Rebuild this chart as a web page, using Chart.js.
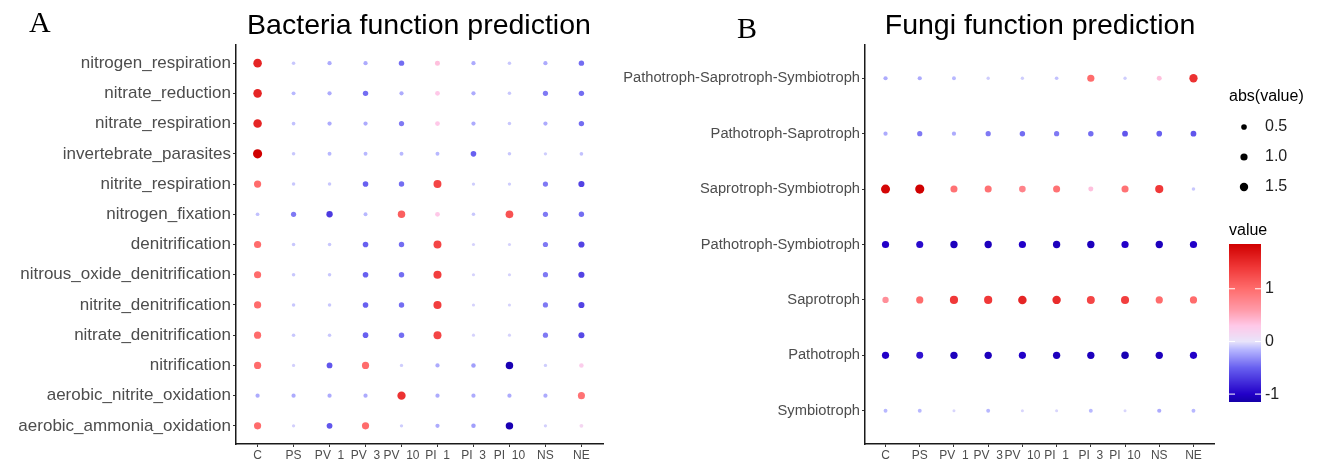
<!DOCTYPE html>
<html>
<head>
<meta charset="utf-8">
<title>Function prediction</title>
<script src="https://cdn.jsdelivr.net/npm/chart.js@4.4.1/dist/chart.umd.min.js"></script>
<style>
  body { margin: 0; background: #fff; }
  #wrap { position: relative; width: 1325px; height: 461px; overflow: hidden; font-family: "Liberation Sans", Arial, sans-serif; }
  canvas { position: absolute; top: 0; }
  .tag { position: absolute; font-family: "Liberation Serif", "Times New Roman", serif; font-size: 30px; color: #000; }
  .title { position: absolute; font-size: 28.5px; color: #000; transform: translateX(-50%); white-space: nowrap; }
</style>
</head>
<body>
<div id="wrap">
  <canvas id="bacteria" width="615" height="461" style="left:0"></canvas>
  <canvas id="fungi" width="710" height="461" style="left:615px"></canvas>
  <div class="tag" style="left:29px;top:5px">A</div>
  <div class="tag" style="left:737px;top:11px">B</div>
  <div class="title" style="left:419px;top:8px">Bacteria function prediction</div>
  <div class="title" style="left:1040px;top:8px">Fungi function prediction</div>
</div>
<script>
const treatments = ['C', 'PS', 'PV  1', 'PV  3', 'PV  10', 'PI  1', 'PI  3', 'PI  10', 'NS', 'NE'];

const bacteriaFunctions = [
  'nitrogen_respiration',
  'nitrate_reduction',
  'nitrate_respiration',
  'invertebrate_parasites',
  'nitrite_respiration',
  'nitrogen_fixation',
  'denitrification',
  'nitrous_oxide_denitrification',
  'nitrite_denitrification',
  'nitrate_denitrification',
  'nitrification',
  'aerobic_nitrite_oxidation',
  'aerobic_ammonia_oxidation'
];

// one row per function, columns follow treatments
const bacteriaValues = [
  [1.55, -0.10, -0.20, -0.20, -0.45, 0.35, -0.20, -0.10, -0.20, -0.45],
  [1.55, -0.15, -0.20, -0.45, -0.20, 0.30, -0.20, -0.10, -0.40, -0.45],
  [1.55, -0.12, -0.20, -0.20, -0.40, 0.30, -0.20, -0.10, -0.20, -0.45],
  [1.85, -0.10, -0.15, -0.15, -0.15, -0.15, -0.50, -0.10, -0.08, -0.12],
  [1.00, -0.10, -0.10, -0.50, -0.45, 1.30, -0.08, -0.08, -0.40, -0.65],
  [-0.12, -0.40, -0.70, -0.15, 1.10, 0.30, -0.10, 1.20, -0.40, -0.45],
  [1.00, -0.10, -0.10, -0.50, -0.45, 1.30, -0.06, -0.06, -0.40, -0.65],
  [1.00, -0.10, -0.10, -0.50, -0.45, 1.35, -0.06, -0.06, -0.40, -0.65],
  [1.00, -0.10, -0.10, -0.50, -0.45, 1.35, -0.06, -0.06, -0.40, -0.65],
  [1.00, -0.10, -0.10, -0.50, -0.45, 1.30, -0.06, -0.06, -0.40, -0.62],
  [1.00, -0.07, -0.55, 1.00, -0.08, -0.20, -0.25, -1.10, -0.08, 0.25],
  [-0.20, -0.20, -0.20, -0.20, 1.45, -0.20, -0.20, -0.20, -0.20, 0.95],
  [1.00, -0.07, -0.55, 1.00, -0.08, -0.20, -0.25, -1.10, -0.07, 0.15]
];

const fungiGuilds = [
  'Pathotroph-Saprotroph-Symbiotroph',
  'Pathotroph-Saprotroph',
  'Saprotroph-Symbiotroph',
  'Pathotroph-Symbiotroph',
  'Saprotroph',
  'Pathotroph',
  'Symbiotroph'
];

const fungiValues = [
  [-0.20, -0.20, -0.15, -0.08, -0.08, -0.12, 1.00, -0.08, 0.35, 1.45],
  [-0.20, -0.40, -0.20, -0.40, -0.45, -0.40, -0.45, -0.55, -0.50, -0.55],
  [1.80, 1.85, 0.95, 0.95, 0.80, 0.95, 0.35, 0.95, 1.40, -0.10],
  [-1.00, -0.95, -1.05, -1.05, -1.00, -1.05, -1.05, -1.00, -1.05, -1.00],
  [0.70, 1.00, 1.40, 1.40, 1.55, 1.50, 1.30, 1.35, 1.00, 1.00],
  [-1.00, -0.90, -1.05, -1.05, -1.00, -1.05, -1.05, -1.10, -1.05, -1.00],
  [-0.15, -0.15, -0.05, -0.15, -0.05, -0.05, -0.15, -0.05, -0.20, -0.15]
];

const sizeBreaks = [0.5, 1.0, 1.5];
const colourBreaks = [1, 0, -1];
const colourMin = -1.15;
const colourMax = 1.85;

// diverging blue - white - red ramp
const rampStops = [
  [-1.15, [20, 0, 168]],
  [-1.0, [34, 0, 200]],
  [-0.5, [104, 96, 240]],
  [-0.15, [184, 184, 255]],
  [0, [232, 228, 250]],
  [0.3, [255, 200, 232]],
  [0.6, [255, 154, 168]],
  [1.0, [255, 108, 108]],
  [1.4, [240, 56, 56]],
  [1.85, [208, 0, 0]]
];

function colourOf(v) {
  if (v <= rampStops[0][0]) return 'rgb(' + rampStops[0][1].join(',') + ')';
  for (let i = 1; i < rampStops.length; i++) {
    const [v1, c1] = rampStops[i];
    if (v <= v1) {
      const [v0, c0] = rampStops[i - 1];
      const t = (v - v0) / (v1 - v0);
      const c = c0.map((a, k) => Math.round(a + (c1[k] - a) * t));
      return 'rgb(' + c.join(',') + ')';
    }
  }
  return 'rgb(' + rampStops[rampStops.length - 1][1].join(',') + ')';
}

function radiusOf(v) {
  return 0.9 + 2.7 * Math.sqrt(Math.abs(v));
}

function toPoints(values) {
  const pts = [];
  values.forEach((row, r) => {
    row.forEach((v, c) => pts.push({ x: c + 1, y: r + 1, v: v }));
  });
  return pts;
}

const tickGrey = '#4d4d4d';

// one tick per category, placed on whole numbers 1..n
function categoryTicks(n) {
  return s => { s.ticks = Array.from({ length: n }, (_, i) => ({ value: i + 1 })); };
}

function makeOptions(rows, yWidth, yFont, padRight) {
  return {
    responsive: false,
    animation: false,
    layout: { padding: { top: 45, right: padRight, bottom: 0, left: 0 } },
    plugins: { legend: { display: false }, tooltip: { enabled: false } },
    scales: {
      x: {
        type: 'linear',
        min: 0.4,
        max: treatments.length + 0.6,
        afterBuildTicks: categoryTicks(treatments.length),
        afterFit: s => { s.height = 17; },
        ticks: {
          autoSkip: false,
          maxRotation: 0,
          padding: 1,
          color: tickGrey,
          font: { family: 'Liberation Sans', size: 12 },
          callback: v => treatments[v - 1]
        },
        grid: { drawOnChartArea: false, tickLength: 3, tickColor: '#333' },
        border: { color: '#1a1a1a', width: 1.5 }
      },
      y: {
        type: 'linear',
        reverse: true,
        min: 0.4,
        max: rows.length + 0.6,
        afterBuildTicks: categoryTicks(rows.length),
        afterFit: s => { s.width = yWidth; },
        ticks: {
          autoSkip: false,
          padding: 2,
          color: tickGrey,
          font: { family: 'Liberation Sans', size: yFont },
          callback: v => rows[v - 1]
        },
        grid: { drawOnChartArea: false, tickLength: 3, tickColor: '#333' },
        border: { color: '#1a1a1a', width: 1.5 }
      }
    }
  };
}

function dotDataset(values) {
  return {
    data: toPoints(values),
    pointStyle: 'circle',
    borderWidth: 0,
    pointRadius: ctx => radiusOf(ctx.raw.v),
    pointHoverRadius: ctx => radiusOf(ctx.raw.v),
    backgroundColor: ctx => colourOf(ctx.raw.v)
  };
}

// size and colour keys to the right of the fungi panel
const keyPlugin = {
  id: 'keys',
  afterDraw(chart) {
    const ctx = chart.ctx;
    const x0 = chart.chartArea.right + 15;
    ctx.save();
    ctx.fillStyle = '#000';
    ctx.font = '16px "Liberation Sans"';
    ctx.textBaseline = 'middle';
    ctx.textAlign = 'left';
    ctx.fillText('abs(value)', x0, 97);
    sizeBreaks.forEach((b, i) => {
      const y = 127 + i * 30;
      ctx.fillStyle = '#000';
      ctx.beginPath();
      ctx.arc(x0 + 15, y, radiusOf(b), 0, Math.PI * 2);
      ctx.fill();
      ctx.fillStyle = '#222';
      ctx.fillText(b.toFixed(1), x0 + 36, y);
    });

    ctx.fillStyle = '#000';
    ctx.fillText('value', x0, 231);
    const top = 244, bottom = 402, w = 32;
    const span = bottom - top;
    for (let py = 0; py < span; py++) {
      const v = colourMax - (py + 0.5) / span * (colourMax - colourMin);
      ctx.fillStyle = colourOf(v);
      ctx.fillRect(x0, top + py, w, 1);
    }
    colourBreaks.forEach(b => {
      const y = top + (colourMax - b) / (colourMax - colourMin) * span;
      ctx.strokeStyle = '#fff';
      ctx.lineWidth = 1;
      ctx.beginPath();
      ctx.moveTo(x0, y); ctx.lineTo(x0 + 6, y);
      ctx.moveTo(x0 + w - 6, y); ctx.lineTo(x0 + w, y);
      ctx.stroke();
      ctx.fillStyle = '#222';
      ctx.fillText(String(b), x0 + 36, y);
    });
    ctx.restore();
  }
};

new Chart(document.getElementById('bacteria'), {
  type: 'scatter',
  data: { datasets: [dotDataset(bacteriaValues)] },
  options: makeOptions(bacteriaFunctions, 236, 17, 12)
});

new Chart(document.getElementById('fungi'), {
  type: 'scatter',
  data: { datasets: [dotDataset(fungiValues)] },
  options: makeOptions(fungiGuilds, 250, 14.7, 111),
  plugins: [keyPlugin]
});
</script>
</body>
</html>
